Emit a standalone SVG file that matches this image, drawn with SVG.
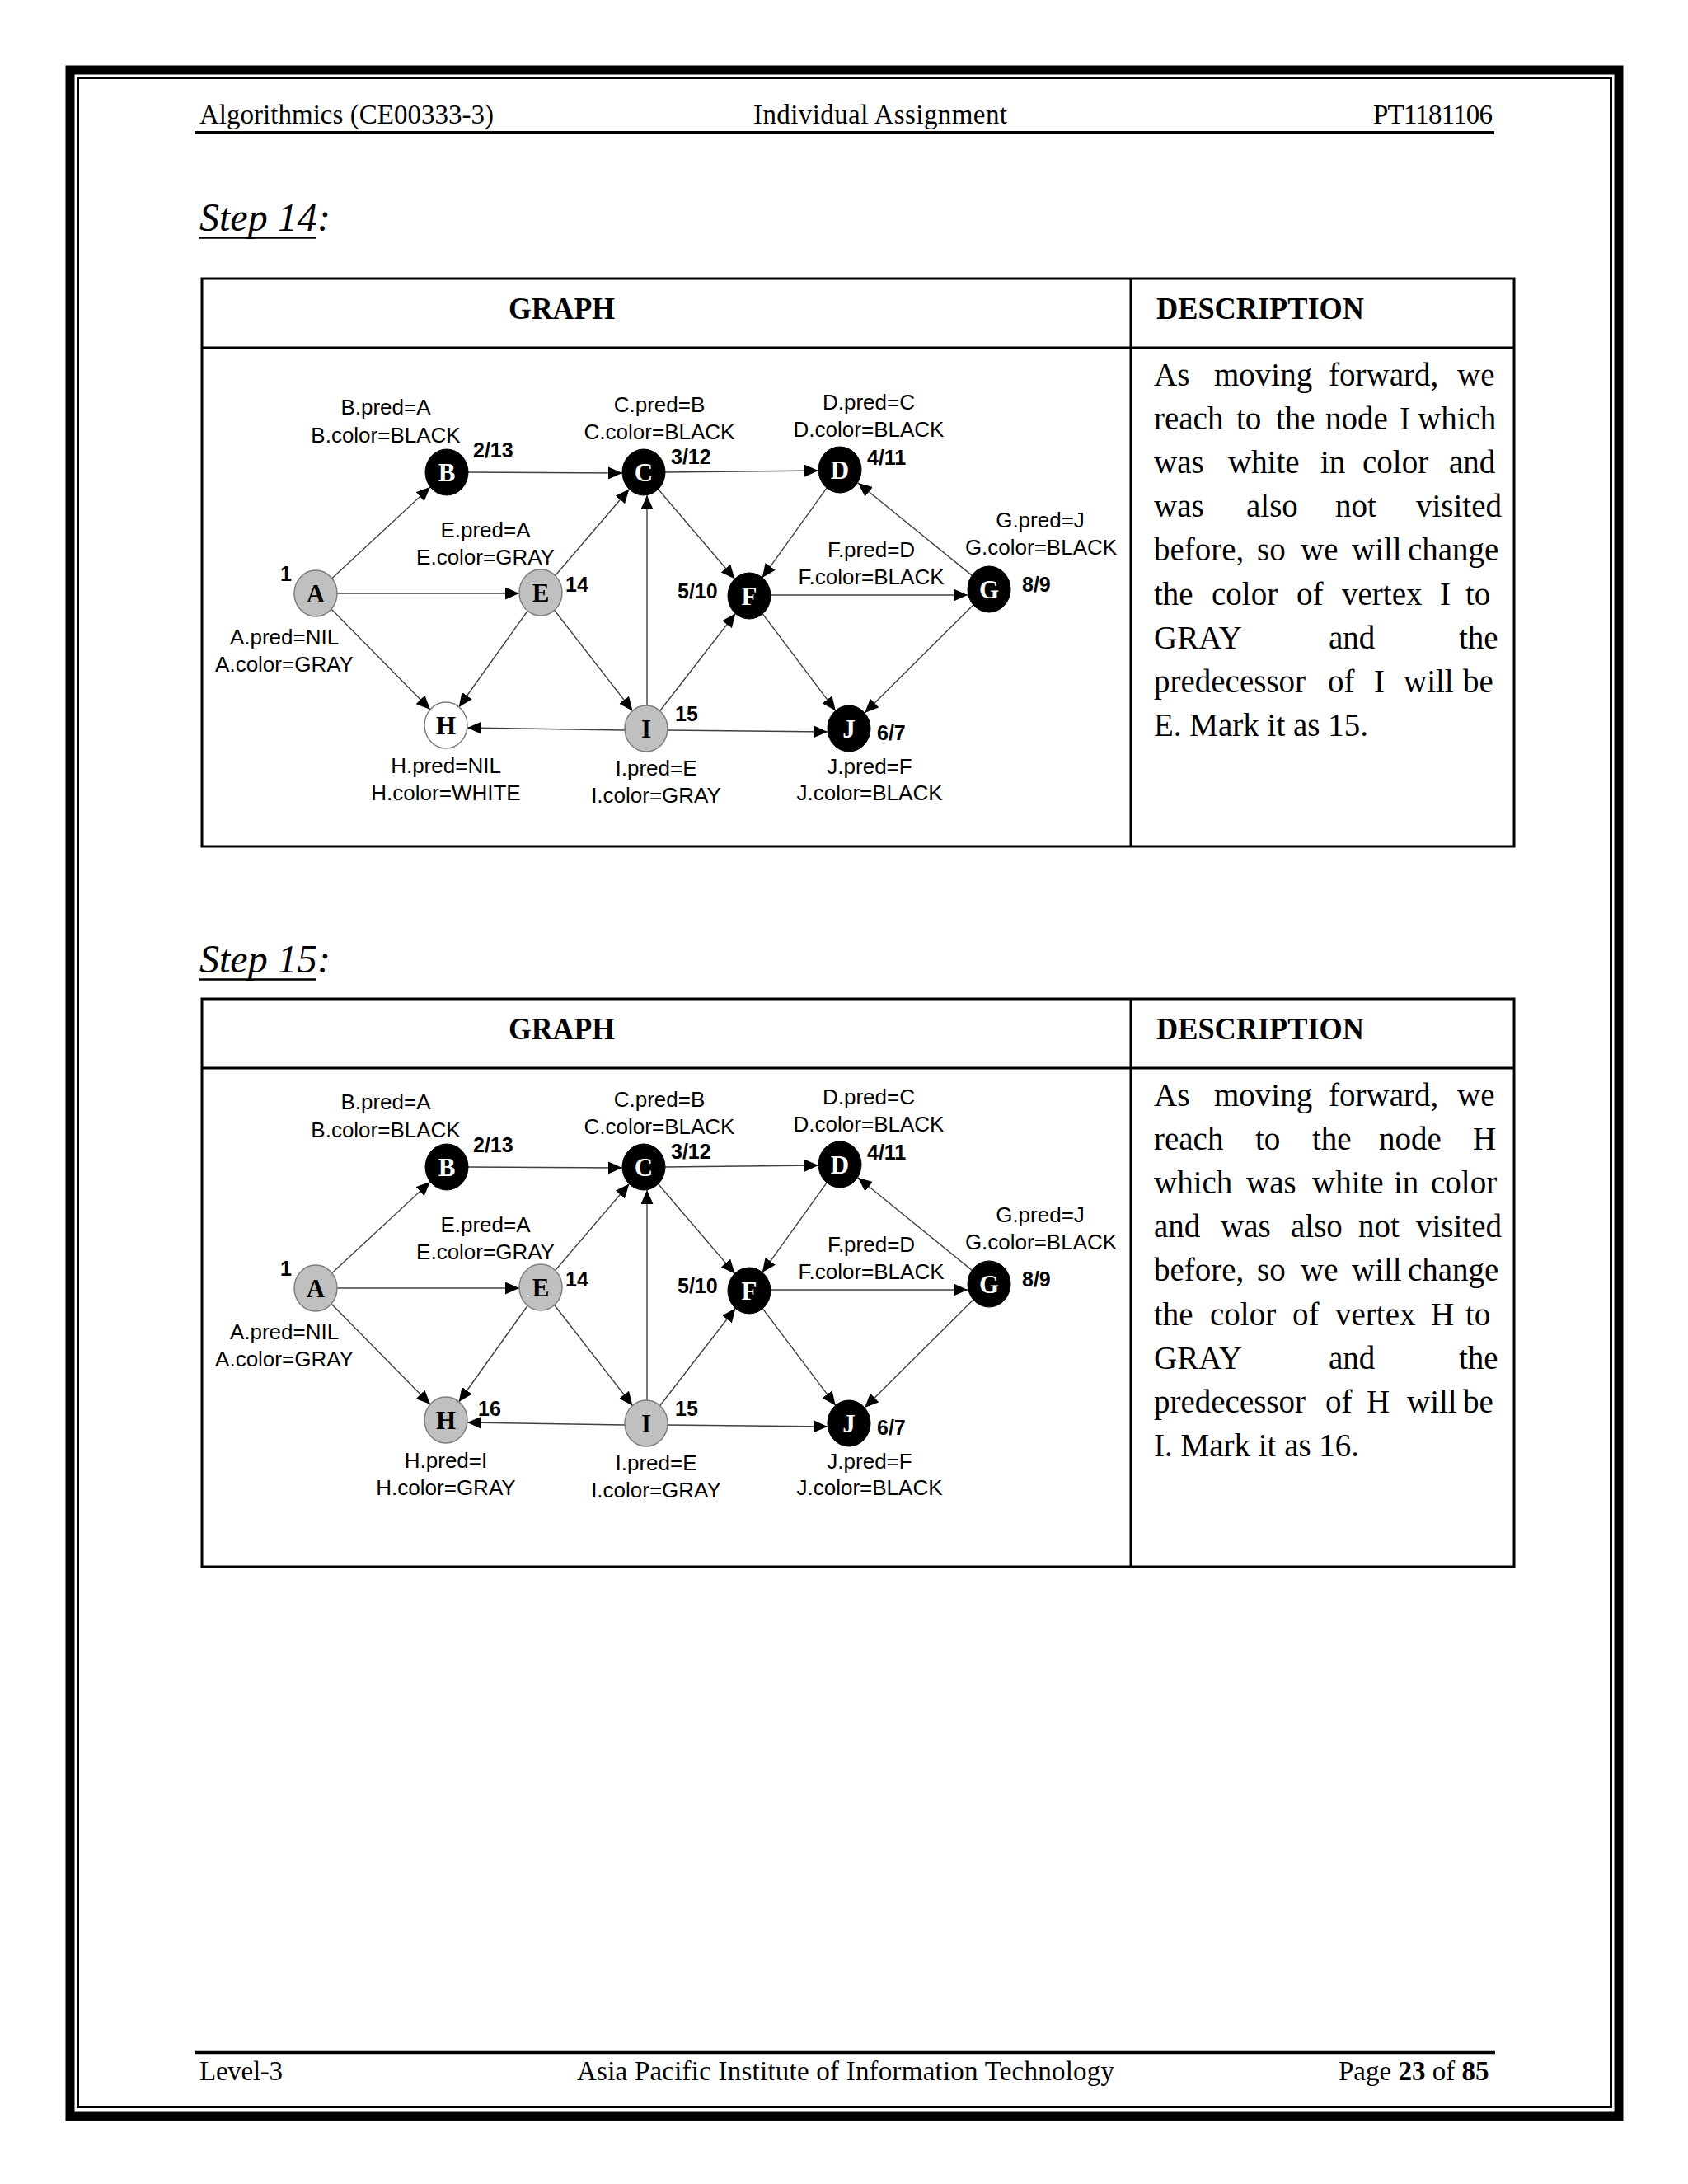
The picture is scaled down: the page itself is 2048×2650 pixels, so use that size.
<svg xmlns="http://www.w3.org/2000/svg" width="2048" height="2650" viewBox="0 0 2048 2650">
<defs>
<style>
.hdr{font-family:"Liberation Serif","Times New Roman",serif;font-size:33px;fill:#000}
.ttl{font-family:"Liberation Serif","Times New Roman",serif;font-size:48px;font-style:italic;fill:#000}
.th{font-family:"Liberation Serif","Times New Roman",serif;font-size:38px;font-weight:bold;fill:#000}
.desc{font-family:"Liberation Serif","Times New Roman",serif;font-size:39px;fill:#000}
.lbl{font-family:"Liberation Sans",Arial,sans-serif;font-size:26px;text-anchor:middle;fill:#000}
.num{font-family:"Liberation Sans",Arial,sans-serif;font-size:25px;font-weight:bold;fill:#000}
.nl{font-family:"Liberation Serif","Times New Roman",serif;font-size:31px;font-weight:bold;text-anchor:middle}
.blk{fill:#000;stroke:#000;stroke-width:1}
.gry{fill:#c0c0c0;stroke:#7f7f7f;stroke-width:1.5}
.wht{fill:#fff;stroke:#7f7f7f;stroke-width:1.5}
.tw{fill:#fff}
.tb{fill:#000}
.edge line{stroke:#404040;stroke-width:1.4;fill:none;marker-end:url(#ah)}
.tbl{fill:none;stroke:#000;stroke-width:3}
</style>
<marker id="ah" markerUnits="userSpaceOnUse" markerWidth="18" markerHeight="16" refX="17" refY="7.5" orient="auto">
<path d="M0,0 L17,7.5 L0,15 z" fill="#000"/>
</marker>
<g id="graph">
<g class="edge" id="connectors">
<line x1="402.8" y1="701.7" x2="522" y2="591"/>
<line x1="409" y1="720" x2="630" y2="720"/>
<line x1="402" y1="739" x2="522" y2="861"/>
<line x1="568" y1="573" x2="755" y2="574"/>
<line x1="673.6" y1="698.5" x2="763.4" y2="593.5"/>
<line x1="640.3" y1="741" x2="556.7" y2="858"/>
<line x1="672.5" y1="740.3" x2="767.5" y2="862.7"/>
<line x1="785" y1="856" x2="785" y2="601"/>
<line x1="798.5" y1="593.5" x2="891.5" y2="702.5"/>
<line x1="807" y1="573" x2="993" y2="571"/>
<line x1="1003.2" y1="591.9" x2="924.8" y2="701.1"/>
<line x1="1179" y1="698.1" x2="1041" y2="586"/>
<line x1="936" y1="722" x2="1174" y2="722"/>
<line x1="925.2" y1="744.6" x2="1013.8" y2="862.4"/>
<line x1="1180.9" y1="734" x2="1049.1" y2="865"/>
<line x1="800.6" y1="862.7" x2="892.4" y2="744.3"/>
<line x1="758" y1="886" x2="567" y2="883"/>
<line x1="810" y1="886" x2="1004" y2="888"/>
</g>
<g id="node-A"><ellipse class="gry" cx="383" cy="720" rx="26" ry="28"/><text class="nl tb" x="383" y="731">A</text>
<text class="num" x="340" y="705">1</text><text class="lbl" x="345" y="782">A.pred=NIL</text><text class="lbl" x="345" y="815">A.color=GRAY</text></g>
<g id="node-B"><ellipse class="blk" cx="542" cy="573" rx="26" ry="28"/><text class="nl tw" x="542" y="584">B</text>
<text class="num" x="574" y="555">2/13</text><text class="lbl" x="468" y="503">B.pred=A</text><text class="lbl" x="468" y="537">B.color=BLACK</text></g>
<g id="node-C"><ellipse class="blk" cx="781" cy="573" rx="26" ry="28"/><text class="nl tw" x="781" y="584">C</text>
<text class="num" x="814" y="563">3/12</text><text class="lbl" x="800" y="500">C.pred=B</text><text class="lbl" x="800" y="533">C.color=BLACK</text></g>
<g id="node-D"><ellipse class="blk" cx="1019" cy="570" rx="26" ry="28"/><text class="nl tw" x="1019" y="581">D</text>
<text class="num" x="1052" y="564">4/11</text><text class="lbl" x="1054" y="497">D.pred=C</text><text class="lbl" x="1054" y="530">D.color=BLACK</text></g>
<g id="node-E"><ellipse class="gry" cx="656" cy="719" rx="26" ry="28"/><text class="nl tb" x="656" y="730">E</text>
<text class="num" x="686" y="718">14</text><text class="lbl" x="589" y="652">E.pred=A</text><text class="lbl" x="589" y="685">E.color=GRAY</text></g>
<g id="node-F"><ellipse class="blk" cx="909" cy="723" rx="26" ry="28"/><text class="nl tw" x="909" y="734">F</text>
<text class="num" x="822" y="726">5/10</text><text class="lbl" x="1057" y="676">F.pred=D</text><text class="lbl" x="1057" y="709">F.color=BLACK</text></g>
<g id="node-G"><ellipse class="blk" cx="1200" cy="715" rx="26" ry="28"/><text class="nl tw" x="1200" y="726">G</text>
<text class="num" x="1240" y="718">8/9</text><text class="lbl" x="1262" y="640">G.pred=J</text><text class="lbl" x="1263" y="673">G.color=BLACK</text></g>
<g id="node-I"><ellipse class="gry" cx="784" cy="884" rx="26" ry="28"/><text class="nl tb" x="784" y="895">I</text>
<text class="num" x="819" y="875">15</text><text class="lbl" x="796" y="941">I.pred=E</text><text class="lbl" x="796" y="974">I.color=GRAY</text></g>
<g id="node-J"><ellipse class="blk" cx="1030" cy="884" rx="26" ry="28"/><text class="nl tw" x="1030" y="895">J</text>
<text class="num" x="1064" y="898">6/7</text><text class="lbl" x="1055" y="939">J.pred=F</text><text class="lbl" x="1055" y="971">J.color=BLACK</text></g>
</g>
</defs>
<rect x="0" y="0" width="2048" height="2650" fill="#fff"/>
<g id="page-border">
<rect x="85" y="85" width="1879" height="2483" fill="none" stroke="#000" stroke-width="11"/>
<rect x="94.5" y="94.5" width="1860" height="2462" fill="none" stroke="#000" stroke-width="3"/>
</g>
<g id="header">
<text class="hdr" x="242" y="150" textLength="357">Algorithmics (CE00333-3)</text>
<text class="hdr" x="914" y="150" textLength="308">Individual Assignment</text>
<text class="hdr" x="1666" y="150" textLength="145">PT1181106</text>
<line x1="236" y1="161" x2="1813" y2="161" stroke="#000" stroke-width="4"/>
</g>
<g id="footer">
<line x1="236" y1="2490.5" x2="1814" y2="2490.5" stroke="#000" stroke-width="3.5"/>
<text class="hdr" x="242" y="2524" textLength="101">Level-3</text>
<text class="hdr" x="700" y="2524" textLength="652">Asia Pacific Institute of Information Technology</text>
<text class="hdr" x="1624" y="2524">Page <tspan font-weight="bold">23</tspan> of <tspan font-weight="bold">85</tspan></text>
</g>

<g id="step14">
<text class="ttl" x="242" y="280">Step 14</text><text class="ttl" x="385" y="280">:</text>
<line x1="242" y1="288.5" x2="384" y2="288.5" stroke="#000" stroke-width="2.5"/>
<rect class="tbl" x="245" y="338" width="1592" height="689"/>
<line x1="245" y1="422" x2="1837" y2="422" stroke="#000" stroke-width="3"/>
<line x1="1372" y1="338" x2="1372" y2="1027" stroke="#000" stroke-width="3"/>
<text class="th" x="617" y="387" textLength="129" lengthAdjust="spacingAndGlyphs">GRAPH</text>
<text class="th" x="1403" y="387" textLength="252" lengthAdjust="spacingAndGlyphs">DESCRIPTION</text>
<g id="s14-description">
<text class="desc" y="468"><tspan x="1400">As</tspan><tspan x="1473">moving</tspan><tspan x="1612">forward,</tspan><tspan x="1768">we</tspan></text>
<text class="desc" y="521"><tspan x="1400">reach</tspan><tspan x="1500">to</tspan><tspan x="1548">the</tspan><tspan x="1608">node</tspan><tspan x="1698">I</tspan><tspan x="1720">which</tspan></text>
<text class="desc" y="574"><tspan x="1400">was</tspan><tspan x="1490">white</tspan><tspan x="1602">in</tspan><tspan x="1653">color</tspan><tspan x="1758">and</tspan></text>
<text class="desc" y="627"><tspan x="1400">was</tspan><tspan x="1512">also</tspan><tspan x="1620">not</tspan><tspan x="1718">visited</tspan></text>
<text class="desc" y="680"><tspan x="1400">before,</tspan><tspan x="1525">so</tspan><tspan x="1578">we</tspan><tspan x="1640">will</tspan><tspan x="1708">change</tspan></text>
<text class="desc" y="734"><tspan x="1400">the</tspan><tspan x="1470">color</tspan><tspan x="1573">of</tspan><tspan x="1628">vertex</tspan><tspan x="1747">I</tspan><tspan x="1778">to</tspan></text>
<text class="desc" y="787"><tspan x="1400">GRAY</tspan><tspan x="1612">and</tspan><tspan x="1770">the</tspan></text>
<text class="desc" y="840"><tspan x="1400">predecessor</tspan><tspan x="1611">of</tspan><tspan x="1667">I</tspan><tspan x="1703">will</tspan><tspan x="1775">be</tspan></text>
<text class="desc" x="1400" y="893">E. Mark it as 15.</text>
</g>
<g id="s14-graph">
<use href="#graph"/>
<g id="s14-node-H"><ellipse class="wht" cx="541" cy="880" rx="26" ry="28"/><text class="nl tb" x="541" y="891">H</text>
<text class="lbl" x="541" y="938">H.pred=NIL</text><text class="lbl" x="541" y="971">H.color=WHITE</text></g>
</g>
</g>

<g id="step15">
<text class="ttl" x="242" y="1180">Step 15</text><text class="ttl" x="385" y="1180">:</text>
<line x1="242" y1="1188.5" x2="384" y2="1188.5" stroke="#000" stroke-width="2.5"/>
<rect class="tbl" x="245" y="1212" width="1592" height="689"/>
<line x1="245" y1="1296" x2="1837" y2="1296" stroke="#000" stroke-width="3"/>
<line x1="1372" y1="1212" x2="1372" y2="1901" stroke="#000" stroke-width="3"/>
<text class="th" x="617" y="1261" textLength="129" lengthAdjust="spacingAndGlyphs">GRAPH</text>
<text class="th" x="1403" y="1261" textLength="252" lengthAdjust="spacingAndGlyphs">DESCRIPTION</text>
<g id="s15-description">
<text class="desc" y="1342"><tspan x="1400">As</tspan><tspan x="1473">moving</tspan><tspan x="1612">forward,</tspan><tspan x="1768">we</tspan></text>
<text class="desc" y="1395"><tspan x="1400">reach</tspan><tspan x="1523">to</tspan><tspan x="1592">the</tspan><tspan x="1673">node</tspan><tspan x="1787">H</tspan></text>
<text class="desc" y="1448"><tspan x="1400">which</tspan><tspan x="1512">was</tspan><tspan x="1592">white</tspan><tspan x="1691">in</tspan><tspan x="1736">color</tspan></text>
<text class="desc" y="1501"><tspan x="1400">and</tspan><tspan x="1481">was</tspan><tspan x="1566">also</tspan><tspan x="1648">not</tspan><tspan x="1718">visited</tspan></text>
<text class="desc" y="1554"><tspan x="1400">before,</tspan><tspan x="1525">so</tspan><tspan x="1578">we</tspan><tspan x="1640">will</tspan><tspan x="1708">change</tspan></text>
<text class="desc" y="1608"><tspan x="1400">the</tspan><tspan x="1468">color</tspan><tspan x="1568">of</tspan><tspan x="1620">vertex</tspan><tspan x="1736">H</tspan><tspan x="1778">to</tspan></text>
<text class="desc" y="1661"><tspan x="1400">GRAY</tspan><tspan x="1612">and</tspan><tspan x="1770">the</tspan></text>
<text class="desc" y="1714"><tspan x="1400">predecessor</tspan><tspan x="1608">of</tspan><tspan x="1658">H</tspan><tspan x="1707">will</tspan><tspan x="1775">be</tspan></text>
<text class="desc" x="1400" y="1767">I. Mark it as 16.</text>
</g>
<g id="s15-graph" transform="translate(0,843)">
<use href="#graph"/>
<g id="s15-node-H"><ellipse class="gry" cx="541" cy="880" rx="26" ry="28"/><text class="nl tb" x="541" y="891">H</text>
<text class="num" x="580" y="875">16</text>
<text class="lbl" x="541" y="938">H.pred=I</text><text class="lbl" x="541" y="971">H.color=GRAY</text></g>
</g>
</g>
</svg>
